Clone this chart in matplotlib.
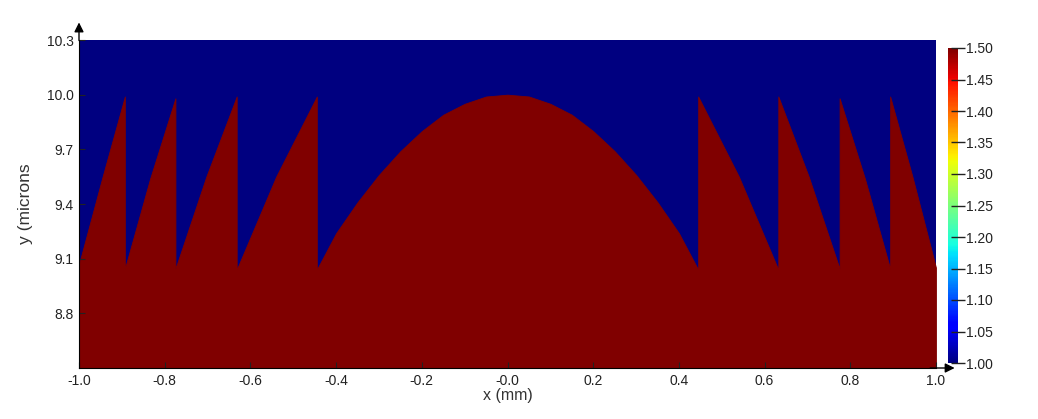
import numpy as np
import matplotlib.pyplot as plt
from matplotlib import cm
from matplotlib.colors import Normalize

plt.rcParams['font.family'] = ['Liberation Sans', 'DejaVu Sans']

# refractive index of the two materials
n_air = 1.0
n_lens = 1.5

# Fresnel lens top surface: x in mm, top in microns
profile_x = [-1.0, -0.945, -0.893, -0.893, -0.834, -0.775, -0.775, -0.703, -0.632,
             -0.632, -0.54, -0.445, -0.445, -0.40, -0.35, -0.30, -0.25, -0.20,
             -0.15, -0.10, -0.05, 0.0, 0.05, 0.10, 0.15, 0.20, 0.25, 0.30, 0.35,
             0.40, 0.445, 0.445, 0.54, 0.632, 0.632, 0.703, 0.775, 0.775, 0.834,
             0.893, 0.893, 0.945, 1.0]
profile_top = [9.07, 9.55, 9.99, 9.045, 9.54, 9.98, 9.045, 9.55, 9.99,
               9.04, 9.55, 9.99, 9.04, 9.24, 9.41, 9.56, 9.69, 9.80,
               9.89, 9.95, 9.99, 10.0, 9.99, 9.95, 9.89, 9.80, 9.69, 9.56, 9.41,
               9.24, 9.04, 9.99, 9.55, 9.04, 9.99, 9.55, 9.045, 9.98, 9.54,
               9.045, 9.99, 9.55, 9.05]
substrate_bottom = 8.5

x_ticks = [-1.0, -0.8, -0.6, -0.4, -0.2, 0.0, 0.2, 0.4, 0.6, 0.8, 1.0]
x_labels = ['-1.0', '-0.8', '-0.6', '-0.4', '-0.2', '-0.0', '0.2', '0.4', '0.6', '0.8', '1.0']
y_ticks = [8.8, 9.1, 9.4, 9.7, 10.0, 10.3]
y_labels = ['8.8', '9.1', '9.4', '9.7', '10.0', '10.3']
cbar_ticks = [1.00, 1.05, 1.10, 1.15, 1.20, 1.25, 1.30, 1.35, 1.40, 1.45, 1.50]

cmap = cm.jet
norm = Normalize(vmin=n_air, vmax=n_lens)

fig = plt.figure(figsize=(10.38, 4.19), dpi=100)
ax = fig.add_axes([79 / 1038, 1 - 368 / 419, 857 / 1038, 328 / 419])

# background = air, filled region = lens material
ax.set_facecolor(cmap(norm(n_air)))
ax.fill_between(profile_x, substrate_bottom, profile_top,
                facecolor=cmap(norm(n_lens)), edgecolor=cmap(norm(n_lens)),
                linewidth=0.6)

ax.set_xlim(-1.0, 1.0)
ax.set_ylim(8.5, 10.3)
ax.set_xticks(x_ticks)
ax.set_xticklabels(x_labels)
ax.set_yticks(y_ticks)
ax.set_yticklabels(y_labels)
ax.tick_params(direction='in', length=4, width=0.8, labelsize=10,
               colors='#222222', pad=4)
for side in ['top', 'right']:
    ax.spines[side].set_visible(False)
for side in ['left', 'bottom']:
    ax.spines[side].set_color('black')

ax.set_xlabel('x (mm)', fontsize=11.5, color='#333333', labelpad=0)
ax.set_ylabel('y (microns', fontsize=12.5, color='#333333', labelpad=10)

# axis arrows
ax.annotate('', xy=(0, 1.062), xytext=(0, 0.99), xycoords='axes fraction',
            arrowprops=dict(arrowstyle='-|>', color='black', lw=1,
                            mutation_scale=14), annotation_clip=False)
ax.annotate('', xy=(1.025, 0), xytext=(0.99, 0), xycoords='axes fraction',
            arrowprops=dict(arrowstyle='-|>', color='black', lw=1,
                            mutation_scale=14), annotation_clip=False)

# colour bar
cax = fig.add_axes([948 / 1038, 1 - 363 / 419, 10 / 1038, 315 / 419])
sm = cm.ScalarMappable(norm=norm, cmap=cmap)
cb = fig.colorbar(sm, cax=cax, ticks=cbar_ticks)
cb.ax.set_yticklabels(['%.2f' % t for t in cbar_ticks])
cb.outline.set_visible(False)
cb.ax.tick_params(direction='inout', length=10, width=1, labelsize=10,
                  colors='#222222', pad=1)

fig.savefig('out.png', dpi=100)
